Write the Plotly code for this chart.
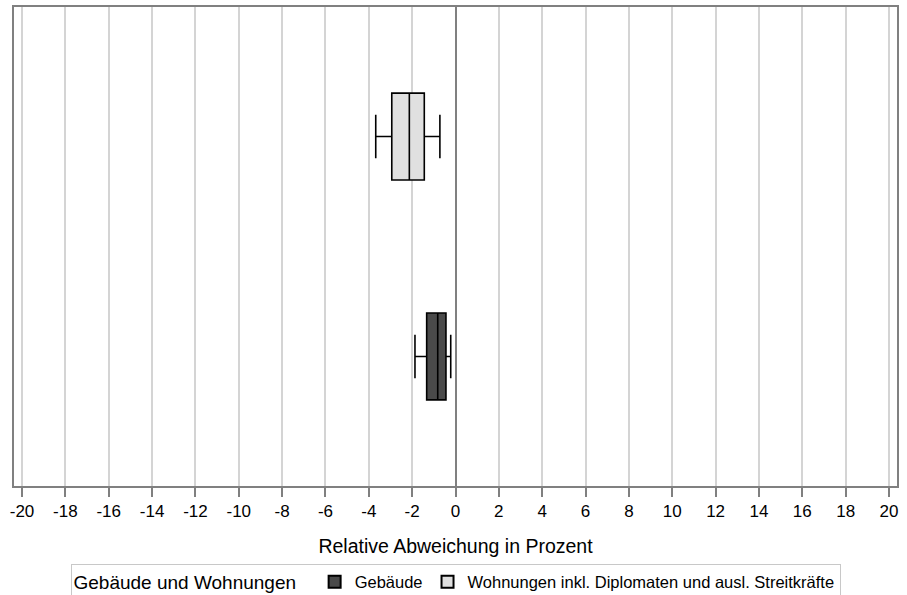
import plotly.graph_objects as go

categories = ["Gebäude", "Wohnungen inkl. Diplomaten und ausl. Streitkräfte"]
y_pos = [0, 1]
lower_whisker = [-1.87, -3.68]
q1 = [-1.33, -2.94]
median = [-0.82, -2.13]
q3 = [-0.44, -1.44]
upper_whisker = [-0.22, -0.72]
fills = ["#4a4a4a", "#e0e0e0"]
x_ticks = list(range(-20, 21, 2))

fig = go.Figure()
for i, name in enumerate(categories):
    fig.add_trace(go.Box(
        name=name,
        y=[y_pos[i]],
        q1=[q1[i]], median=[median[i]], q3=[q3[i]],
        lowerfence=[lower_whisker[i]], upperfence=[upper_whisker[i]],
        orientation="h",
        fillcolor=fills[i],
        line=dict(color="black", width=1.6),
        width=0.395,
        whiskerwidth=0.5,
        boxpoints=False,
        hoverinfo="skip",
    ))

fig.update_layout(
    width=907, height=595,
    margin=dict(l=14, r=10, t=7, b=109, autoexpand=False),
    paper_bgcolor="white", plot_bgcolor="white",
    font=dict(family="Liberation Sans, Arial, sans-serif", color="black", size=15),
    showlegend=True,
    legend=dict(
        orientation="h", x=0.5, xanchor="center", y=-0.162, yanchor="top",
        title=dict(text="Gebäude und Wohnungen  ", font=dict(size=19)),
        font=dict(size=16.5),
        bordercolor="#c8c8c8", borderwidth=1,
        itemsizing="constant",
        tracegroupgap=0,
    ),
    xaxis=dict(
        range=[-20.37, 20.37],
        tickmode="array", tickvals=x_ticks, ticktext=[str(v) for v in x_ticks],
        showgrid=True, gridcolor="#d4d4d4", gridwidth=1.5,
        zeroline=True, zerolinecolor="#808080", zerolinewidth=1.5,
        showline=True, linecolor="#808080", linewidth=2, mirror=True,
        ticks="outside", ticklen=9, tickcolor="#808080", tickwidth=1.5,
        tickfont=dict(size=17),
        title=dict(text="Relative Abweichung in Prozent", font=dict(size=19.5), standoff=19),
        automargin=False,
    ),
    yaxis=dict(
        range=[-0.589, 1.589],
        showticklabels=False, showgrid=False, zeroline=False,
        showline=True, linecolor="#808080", linewidth=2, mirror=True,
        ticks="", automargin=False,
    ),
)

fig.write_html("out.html", config={"displayModeBar": False},
               post_script="document.body.style.margin='0px';")
